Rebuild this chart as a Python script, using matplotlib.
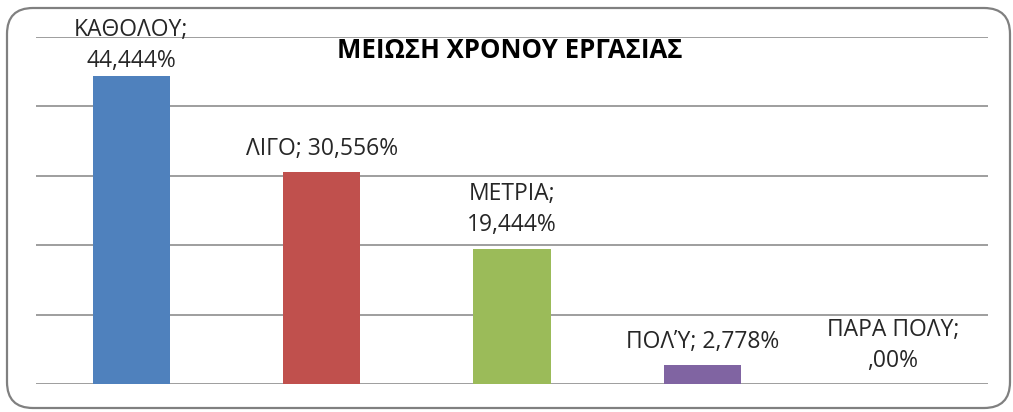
import matplotlib
matplotlib.use("Agg")
import matplotlib.pyplot as plt
from matplotlib.patches import FancyBboxPatch

categories = ["ΚΑΘΟΛΟΥ", "ΛΙΓΟ", "ΜΕΤΡΙΑ", "ΠΟΛΎ", "ΠΑΡΑ ΠΟΛΥ"]
values = [44.444, 30.556, 19.444, 2.778, 0.0]
value_texts = ["44,444%", "30,556%", "19,444%", "2,778%", ",00%"]
colors = ["#4F81BD", "#C0504D", "#9BBB59", "#8064A2", "#4BACC6"]
title = "ΜΕΙΩΣΗ ΧΡΟΝΟΥ ΕΡΓΑΣΙΑΣ"

plt.rcParams['font.family'] = ['Open Sans', 'DejaVu Sans']

W, H = 1013, 412
fig = plt.figure(figsize=(W / 100, H / 100), dpi=100)
fig.patch.set_facecolor("white")

# background overlay in pixel coordinates
bg = fig.add_axes([0, 0, 1, 1], zorder=0)
bg.set_xlim(0, W)
bg.set_ylim(H, 0)
bg.axis("off")
bg.add_patch(FancyBboxPatch((7, 8), 1003, 400,
                            boxstyle="round,pad=0,rounding_size=26",
                            facecolor="white", edgecolor="#808080", linewidth=1.6))

ax = fig.add_axes([36 / W, 28 / H, (988 - 36) / W, (384 - 37) / H], zorder=1)
ax.patch.set_alpha(0)
x = list(range(len(categories)))
ax.bar(x, values, width=0.405, color=colors, zorder=2)
ax.set_xlim(-0.5, len(categories) - 0.5)
ax.set_ylim(0, 50)
for gy in [0, 10, 20, 30, 40, 50]:
    ax.axhline(gy, color="#8E8E8E", linewidth=1.2, zorder=1)
for s in ax.spines.values():
    s.set_visible(False)
ax.set_xticks([])
ax.set_yticks([])

wrap = [True, False, True, False, True]
offsets = [2, 8, 9, 8, 8]
for i, (c, v, t) in enumerate(zip(categories, values, value_texts)):
    sep = ";\n" if wrap[i] else "; "
    ax.annotate(c + sep + t, xy=(i, v), xytext=(0, offsets[i]),
                textcoords="offset points", ha="center", va="bottom",
                fontsize=16.5, color="#262626", linespacing=1.38,
                annotation_clip=False, zorder=3)

bg.text(510, 50, title, ha="center", va="center", fontsize=18.5,
        fontweight="bold", color="black")

fig.savefig("out.png", dpi=100)
